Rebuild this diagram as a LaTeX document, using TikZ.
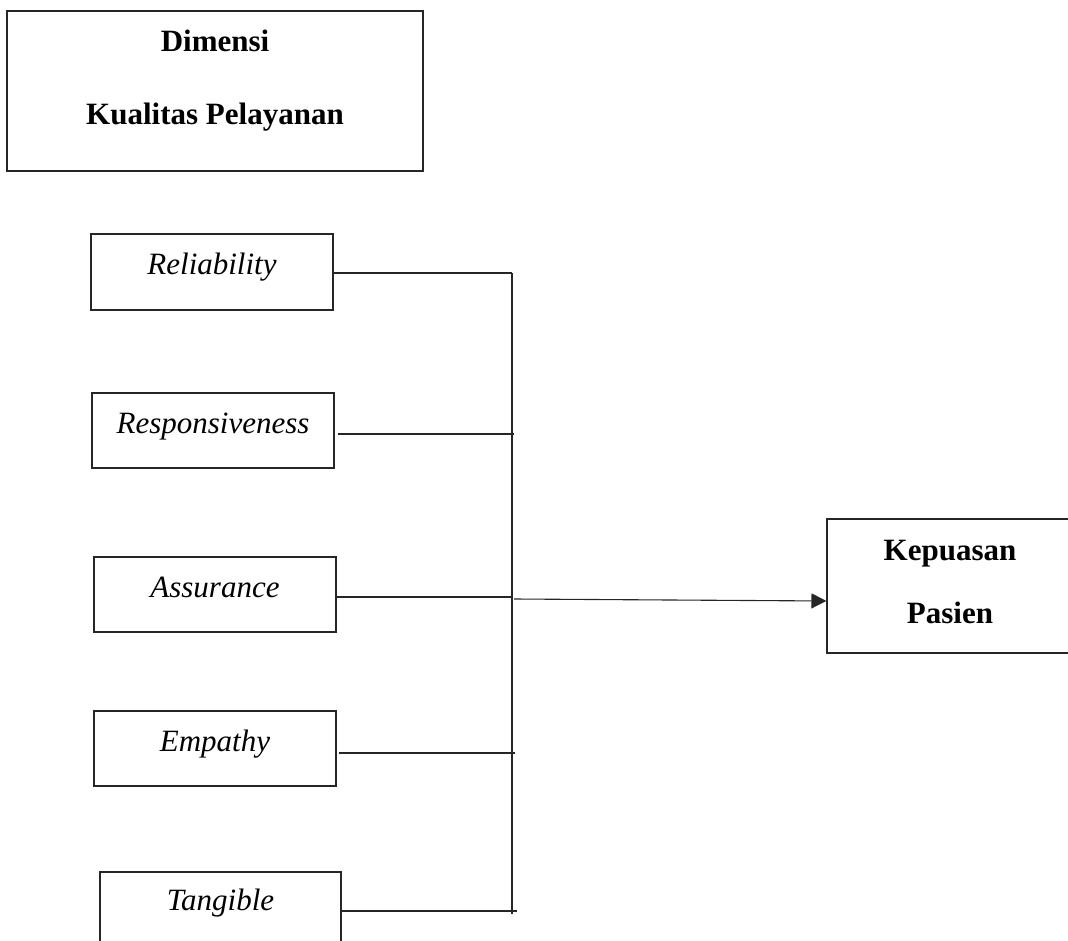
\documentclass[tikz,border=0pt]{standalone}
\usepackage{fontspec}
\setmainfont{Liberation Serif}
\usetikzlibrary{arrows.meta}
\begin{document}
\begin{tikzpicture}[x=1pt,y=-1pt,
  box/.style={draw=black!85, line width=1.1pt, rectangle, inner sep=0pt, minimum width=242pt, minimum height=75pt},
  lab/.style={anchor=base, inner sep=0pt, font=\fontsize{31}{37}\selectfont\itshape},
  labb/.style={anchor=base, inner sep=0pt, font=\fontsize{31}{37}\selectfont\bfseries},
  conn/.style={draw=black!85, line width=1.1pt},
]
\useasboundingbox (0,0) rectangle (1068,941);
\clip (0,0) rectangle (1068,941);
% title box
\node[box, minimum width=416pt, minimum height=160pt] (dim) at (215,91) {};
\node[labb] (dimt1) at (215,52) {Dimensi};
\node[labb] (dimt2) at (215,125) {Kualitas Pelayanan};
% dimension boxes
\node[box, minimum height=76pt] (rel) at (212,272) {};
\node[lab] (relt) at (212,275) {Reliability};
\node[box] (res) at (213,430.5) {};
\node[lab] (rest) at (213,433) {Responsiveness};
\node[box] (ass) at (215,594.5) {};
\node[lab] (asst) at (215,597) {Assurance};
\node[box] (emp) at (215,748.5) {};
\node[lab] (empt) at (215,751) {Empathy};
\node[box, minimum width=241pt] (tan) at (220.5,909.5) {};
\node[lab] (tant) at (220.5,910) {Tangible};
% result box
\node[box, minimum width=246pt, minimum height=134pt] (kep) at (950,586) {};
\node[labb] (kept1) at (950,560) {Kepuasan};
\node[labb] (kept2) at (950,623) {Pasien};
% bus
\coordinate (btop) at (512,273);
\coordinate (bbot) at (512,914);
\coordinate (j1) at (512,273);
\coordinate (j2) at (514,434);
\coordinate (j3) at (513,597);
\coordinate (j4) at (515,753);
\coordinate (j5) at (517,911);
\coordinate (ja) at (514,599);
\draw[conn] (btop) -- (bbot);
\draw[conn] (rel.east |- j1) -- (j1);
\draw[conn] ([xshift=3pt]res.east |- j2) -- (j2);
\draw[conn] (ass.east |- j3) -- (j3);
\draw[conn] ([xshift=2pt]emp.east |- j4) -- (j4);
\draw[conn] (tan.east |- j5) -- (j5);
\draw[conn, -{Triangle[length=15pt,width=15pt]}] (ja) -- ([yshift=-15pt]kep.west);
\end{tikzpicture}
\end{document}
